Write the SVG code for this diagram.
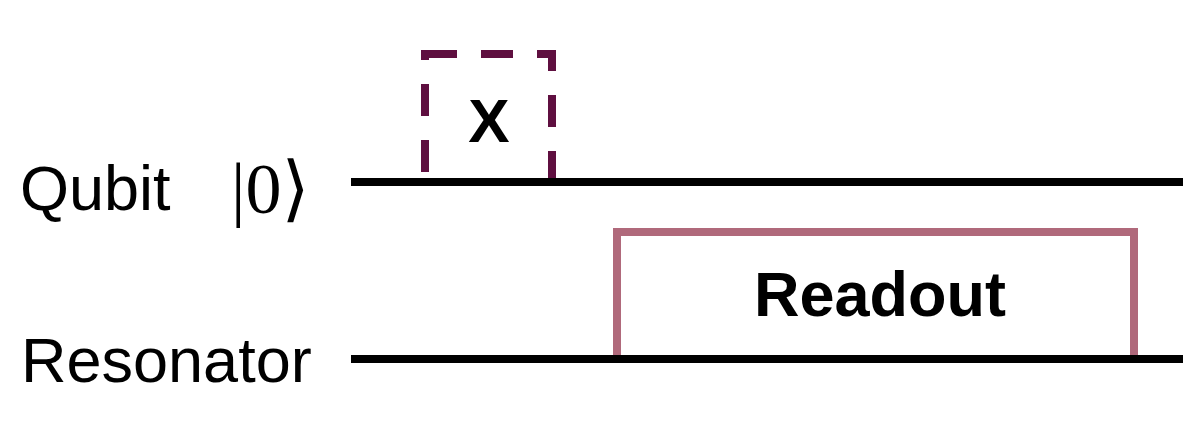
<svg xmlns="http://www.w3.org/2000/svg" width="1202" height="440" viewBox="0 0 1202 440">
<style>
.lbl{font-family:"Liberation Sans",Arial,sans-serif;font-size:63px;fill:#000}
.ket{font-family:"Liberation Serif","DejaVu Serif",serif;font-size:72px;fill:#000}
.gate{font-family:"Liberation Sans",Arial,sans-serif;font-size:62px;font-weight:bold;fill:#000;text-anchor:middle}
.wire{stroke:#000;stroke-width:8;fill:none}
</style>
<rect width="1202" height="440" fill="#fff"/>
<g id="qubit-label">
<text class="lbl" x="20" y="210">Qubit</text>
<text class="ket" x="231" y="213">|0⟩</text>
</g>
<g id="resonator-label">
<text class="lbl" x="21" y="382">Resonator</text>
</g>
<g id="x-gate">
<rect x="425" y="54" width="127" height="128" fill="none" stroke="#5f0f40" stroke-width="8" stroke-dasharray="32 24"/>
<text class="gate" x="489" y="142">X</text>
</g>
<g id="readout">
<path d="M617 359 V232 H1134 V359" fill="none" stroke="#b0697b" stroke-width="8"/>
<text class="gate" x="880" y="316" style="font-size:63px">Readout</text>
</g>
<g id="connectors">
<line class="wire" x1="351" y1="182" x2="1183" y2="182"/>
<line class="wire" x1="351" y1="359" x2="1183" y2="359"/>
</g>
</svg>
